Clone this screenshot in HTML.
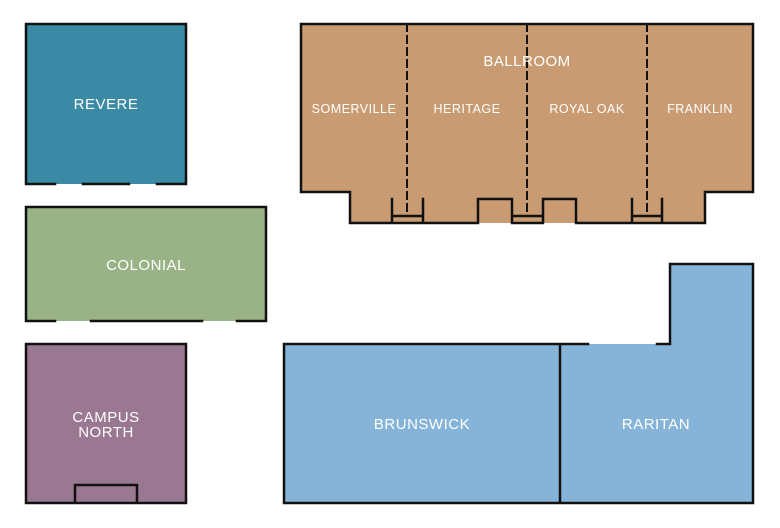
<!DOCTYPE html>
<html><head><style>
html,body{margin:0;padding:0;background:#fff;}
svg{display:block}
text{font-family:"Liberation Sans",sans-serif;fill:#fff;text-anchor:middle;letter-spacing:0.5px}
</style></head><body>
<svg width="780" height="528" viewBox="0 0 780 528" xmlns="http://www.w3.org/2000/svg">
<g stroke="#111" stroke-width="2.5" fill="none" stroke-linecap="square">
<!-- Revere -->
<rect x="26" y="24" width="160" height="160" fill="#3b8aa5" stroke="none"/>
<path d="M26 184 V24 H186 V184 M26 184 H55 M83 184 H129 M157 184 H186"/>
<!-- Colonial -->
<rect x="26" y="207" width="240" height="114" fill="#9ab386" stroke="none"/>
<path d="M26 321 V207 H266 V321 M26 321 H55 M91 321 H202 M237 321 H266"/>
<!-- Campus North -->
<rect x="26" y="344" width="160" height="159" fill="#9b7891" stroke="none"/>
<path d="M26 344 H186 V503 H26 Z M75 503 V485 H137 V503"/>
<!-- Ballroom -->
<path d="M301 24 H753 V192 H705 V223 H350 V192 H301 Z" fill="#c99b72" stroke="none"/>
<path d="M301 24 H753 V192 H705 V223 M301 24 V192 H350 V223 H392 V199 M392 223 H423 V199 M392 216 H423 M423 223 H478 V199 H512 V223 H543 V199 H576 V223 H632 V199 M512 216 H543 M632 223 H662 V199 M632 216 H662 M662 223 H705"/>
<g stroke-dasharray="7,5" stroke-width="2"><path d="M407 24 V216 M527 24 V216 M647 24 V216"/></g>
<!-- Brunswick / Raritan -->
<path d="M284 344 H670 V264 H753 V503 H284 Z" fill="#86b4d8" stroke="none"/>
<path d="M588 344 H284 V503 H753 V264 H670 V344 H657 M560 344 V503"/>
</g>
<text x="106" y="109" font-size="15">REVERE</text>
<text x="146" y="270" font-size="15">COLONIAL</text>
<text x="106" y="422" font-size="15">CAMPUS</text>
<text x="106" y="437" font-size="15">NORTH</text>
<text x="527" y="66" font-size="15">BALLROOM</text>
<text x="354" y="113" font-size="12.5">SOMERVILLE</text>
<text x="467" y="113" font-size="12.5">HERITAGE</text>
<text x="587" y="113" font-size="12.5">ROYAL OAK</text>
<text x="700" y="113" font-size="12.5">FRANKLIN</text>
<text x="422" y="429" font-size="15">BRUNSWICK</text>
<text x="656" y="429" font-size="15">RARITAN</text>
</svg>
</body></html>
